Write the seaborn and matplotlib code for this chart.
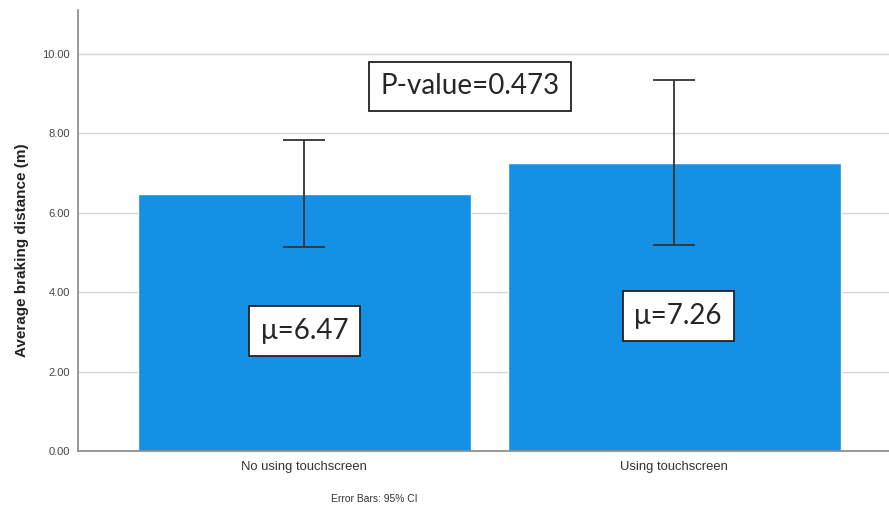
import matplotlib
matplotlib.use("Agg")
import matplotlib.pyplot as plt
import pandas as pd
import seaborn as sns

groups = ["No using touchscreen", "Using touchscreen"]
means = [6.47, 7.26]
ci_low = [5.14, 5.19]
ci_high = [7.83, 9.35]
mean_labels = ["μ=6.47", "μ=7.26"]
p_label = "P-value=0.473"
yticks = [0, 2, 4, 6, 8, 10]

df = pd.DataFrame({"group": groups, "mean": means})

sns.set_style("white")
plt.rcParams["font.family"] = ["Liberation Sans", "DejaVu Sans"]

fig = plt.figure(figsize=(8.89, 5.09), dpi=100)
ax = fig.add_axes([78 / 889, 58 / 509, 811 / 889, 441 / 509])

sns.barplot(data=df, x="group", y="mean", color="#1491E5", saturation=1,
            width=0.9, errorbar=None, ax=ax)

lo = [m - l for m, l in zip(means, ci_low)]
hi = [h - m for m, h in zip(means, ci_high)]
ax.errorbar(range(len(groups)), means, yerr=[lo, hi], fmt="none",
            ecolor="#333333", elinewidth=1.3, capsize=14.8, capthick=1.3)

ax.set_ylim(0, 11.1)
ax.set_xlim(-0.612, 1.58)
ax.set_yticks(yticks)
ax.set_yticklabels([f"{v:.2f}" for v in yticks])
ax.yaxis.grid(True, color="#d4d4d4", lw=1)
ax.set_axisbelow(True)
ax.tick_params(axis="both", length=0)
ax.tick_params(axis="y", labelsize=8, labelcolor="#444444", pad=6)
ax.tick_params(axis="x", labelsize=9.4, labelcolor="#333333", pad=7)
ax.set_xlabel("Error Bars: 95% CI", fontsize=7.4, color="#333333")
ax.xaxis.set_label_coords((374 - 78) / 811, -0.097)
ax.set_ylabel("Average braking distance (m)", fontsize=11, fontweight="bold",
              color="#222222")
ax.yaxis.set_label_coords(-0.061, 0.456)

for side in ["top", "right"]:
    ax.spines[side].set_visible(False)
for side in ["left", "bottom"]:
    ax.spines[side].set_color("#888888")
    ax.spines[side].set_linewidth(1.2)

box = dict(boxstyle="square,pad=0.42", fc="white", ec="#222222", lw=1.3)
label_pos = [(0, 3.02), (1.01, 3.40)]
for (x, y), txt in zip(label_pos, mean_labels):
    ax.text(x, y, txt, ha="center", va="center", fontsize=20,
            family=["Lato", "DejaVu Sans"], bbox=box)
ax.text(0.447, 9.18, p_label, ha="center", va="center", fontsize=20,
        family=["Lato", "DejaVu Sans"], bbox=box)

fig.savefig("out.png", dpi=100)
